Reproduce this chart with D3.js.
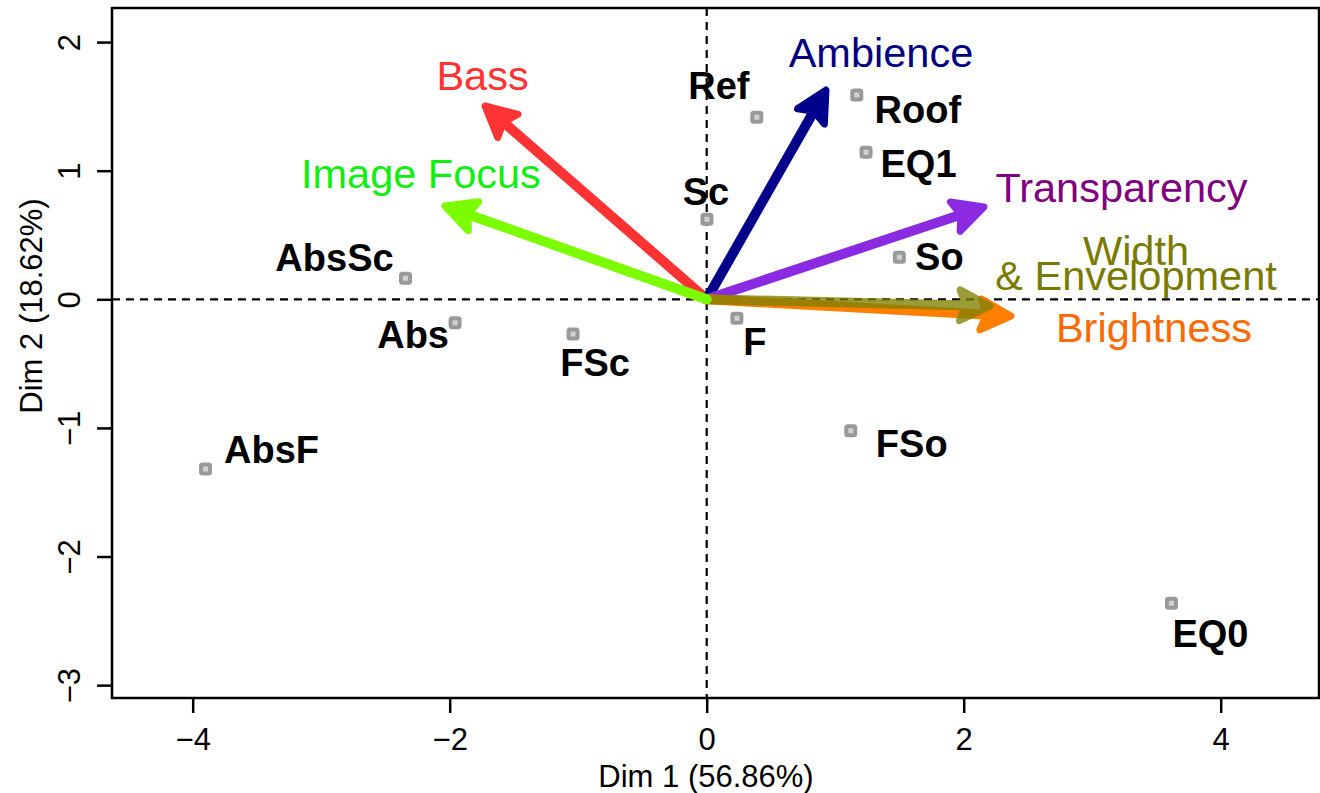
<!DOCTYPE html>
<html>
<head>
<meta charset="utf-8">
<script src="https://cdn.jsdelivr.net/npm/d3@7/dist/d3.min.js"></script>
<style>
  html, body { margin: 0; padding: 0; background: #fff; }
  svg { display: block; }
</style>
</head>
<body>
<svg id="chart" width="1320" height="793"></svg>
<script>
// ---------- DATA ----------
const pointNames = ["Ref", "Roof", "EQ1", "Sc", "So", "AbsSc", "Abs", "FSc", "F", "FSo", "AbsF", "EQ0"];
const pointX = [0.390, 1.168, 1.240, 0.002, 1.499, -2.344, -1.958, -1.040, 0.235, 1.121, -3.900, 3.617];
const pointY = [1.415, 1.589, 1.143, 0.622, 0.327, 0.163, -0.182, -0.270, -0.148, -1.022, -1.320, -2.364];

const varNames = ["Bass", "Ambience", "Transparency", "Brightness", "Width\n& Envelopment", "Image Focus"];
const varX = [-1.725, 0.928, 2.158, 2.368, 2.205, -2.037];
const varY = [1.503, 1.627, 0.718, -0.130, -0.052, 0.725];

const xTicks = [-4, -2, 0, 2, 4];
const yTicks = [-3, -2, -1, 0, 1, 2];
const xTitle = "Dim 1 (56.86%)";
const yTitle = "Dim 2 (18.62%)";

// ---------- LAYOUT / STYLE ----------
const box = { left: 112, right: 1319, top: 8, bottom: 698 };
const xDomain = [-4.628, 4.765];
const yDomain = [-3.100, 2.265];

const arrowColors = ["#ff3333", "#00008b", "#8a2be2", "#ff7f00", "#808000", "#7cfc00"];
const arrowOpacity = [1, 1, 1, 1, 0.78, 1];
const labelColors = ["#ff3333", "#000080", "#800080", "#ff6a00", "#7a7a00", "#11ee11"];
// label offsets from arrow tip (px): [dx, dy] for the (first line) baseline centre
const varLabelOffset = [[-2.5, -16], [55, -23], [137.5, -5], [143, 26], [146, -41], [-24, -18]];
// point label offsets (px) from point centre to label baseline centre
const pointLabelOffset = [[-38, -18], [61, 28], [52.5, 25], [-1, -14], [40, 13], [-71, -7],
                          [-42, 25], [22, 42], [18, 37], [61, 26], [66, -6], [39, 44]];

const FONT = "'Liberation Sans', Arial, Helvetica, sans-serif";
const minusFmt = v => (v < 0 ? "\u2212" + Math.abs(v) : String(v));

const svg = d3.select("#chart");
const x = d3.scaleLinear().domain(xDomain).range([box.left, box.right]);
const y = d3.scaleLinear().domain(yDomain).range([box.bottom, box.top]);

// dashed zero lines
svg.append("line")
  .attr("x1", box.left).attr("x2", box.right)
  .attr("y1", y(0)).attr("y2", y(0))
  .attr("stroke", "#000").attr("stroke-width", 2.2).attr("stroke-dasharray", "8,6");
svg.append("line")
  .attr("x1", x(0)).attr("x2", x(0))
  .attr("y1", box.top).attr("y2", box.bottom)
  .attr("stroke", "#000").attr("stroke-width", 2.2).attr("stroke-dasharray", "8,6");

// points
const pts = pointNames.map((n, i) => ({ name: n, x: pointX[i], y: pointY[i], off: pointLabelOffset[i] }));
svg.append("g").selectAll("rect").data(pts).join("rect")
  .attr("x", d => x(d.x) - 4.5).attr("y", d => y(d.y) - 4.5)
  .attr("width", 9).attr("height", 9).attr("rx", 1.5)
  .attr("fill", "#d2d2d2").attr("stroke", "#999").attr("stroke-width", 4);

svg.append("g").selectAll("text").data(pts).join("text")
  .attr("x", d => x(d.x) + d.off[0]).attr("y", d => y(d.y) + d.off[1])
  .attr("text-anchor", "middle")
  .attr("font-family", FONT).attr("font-weight", "bold").attr("font-size", 38)
  .attr("fill", "#000")
  .text(d => d.name);

// arrows
const vars = varNames.map((n, i) => ({ name: n, x: varX[i], y: varY[i], color: arrowColors[i],
  op: arrowOpacity[i], lc: labelColors[i], off: varLabelOffset[i] }));
const ox = x(0), oy = y(0);
const headLen = 34, headAng = 27 * Math.PI / 180;
const ag = svg.append("g");
vars.forEach(v => {
  const tx = x(v.x), ty = y(v.y);
  const ang = Math.atan2(ty - oy, tx - ox);
  const g = ag.append("g").attr("opacity", v.op);
  const sx = tx - 10 * Math.cos(ang), sy = ty - 10 * Math.sin(ang);
  g.append("line")
    .attr("x1", ox).attr("y1", oy).attr("x2", sx).attr("y2", sy)
    .attr("stroke", v.color).attr("stroke-width", 10).attr("stroke-linecap", "round");
  const b1 = [tx - headLen * Math.cos(ang - headAng), ty - headLen * Math.sin(ang - headAng)];
  const b2 = [tx - headLen * Math.cos(ang + headAng), ty - headLen * Math.sin(ang + headAng)];
  const notch = [tx - headLen * 0.72 * Math.cos(ang), ty - headLen * 0.72 * Math.sin(ang)];
  g.append("path")
    .attr("d", d3.line()([[tx, ty], b1, notch, b2]) + "Z")
    .attr("fill", v.color).attr("stroke", v.color).attr("stroke-width", 7)
    .attr("stroke-linejoin", "round");
});

// arrow labels
vars.forEach(v => {
  const lines = v.name.split("\n");
  const t = svg.append("text")
    .attr("x", x(v.x) + v.off[0]).attr("y", y(v.y) + v.off[1])
    .attr("text-anchor", "middle")
    .attr("font-family", FONT).attr("font-size", 41.5)
    .attr("fill", v.lc);
  lines.forEach((l, k) => {
    t.append("tspan").attr("x", x(v.x) + v.off[0]).attr("dy", k === 0 ? 0 : 25).text(l);
  });
});

// box
svg.append("rect")
  .attr("x", box.left).attr("y", box.top)
  .attr("width", box.right - box.left).attr("height", box.bottom - box.top)
  .attr("fill", "none").attr("stroke", "#000").attr("stroke-width", 2.5);

// axes
const xAxis = d3.axisBottom(x).tickValues(xTicks).tickFormat(minusFmt).tickSize(15).tickPadding(8);
const gx = svg.append("g").attr("transform", `translate(0,${box.bottom})`).call(xAxis);
gx.select(".domain").remove();
gx.selectAll("line").attr("stroke", "#000").attr("stroke-width", 2.5);
gx.selectAll("text").attr("font-family", FONT).attr("font-size", 31).attr("fill", "#000")
  .attr("dy", null).attr("y", 52);

const yAxis = d3.axisLeft(y).tickValues(yTicks).tickFormat(minusFmt).tickSize(15);
const gy = svg.append("g").attr("transform", `translate(${box.left},0)`).call(yAxis);
gy.select(".domain").remove();
gy.selectAll("line").attr("stroke", "#000").attr("stroke-width", 2.5);
gy.selectAll("text")
  .attr("font-family", FONT).attr("font-size", 31).attr("fill", "#000")
  .attr("x", null).attr("dy", null).attr("text-anchor", "middle")
  .attr("transform", "translate(-32,0) rotate(-90)");

// axis titles
svg.append("text")
  .attr("x", 706).attr("y", 787).attr("text-anchor", "middle")
  .attr("font-family", FONT).attr("font-size", 31).attr("fill", "#000")
  .text(xTitle);
svg.append("text")
  .attr("transform", "translate(42,306) rotate(-90)").attr("text-anchor", "middle")
  .attr("font-family", FONT).attr("font-size", 31).attr("fill", "#000")
  .text(yTitle);
</script>
</body>
</html>
